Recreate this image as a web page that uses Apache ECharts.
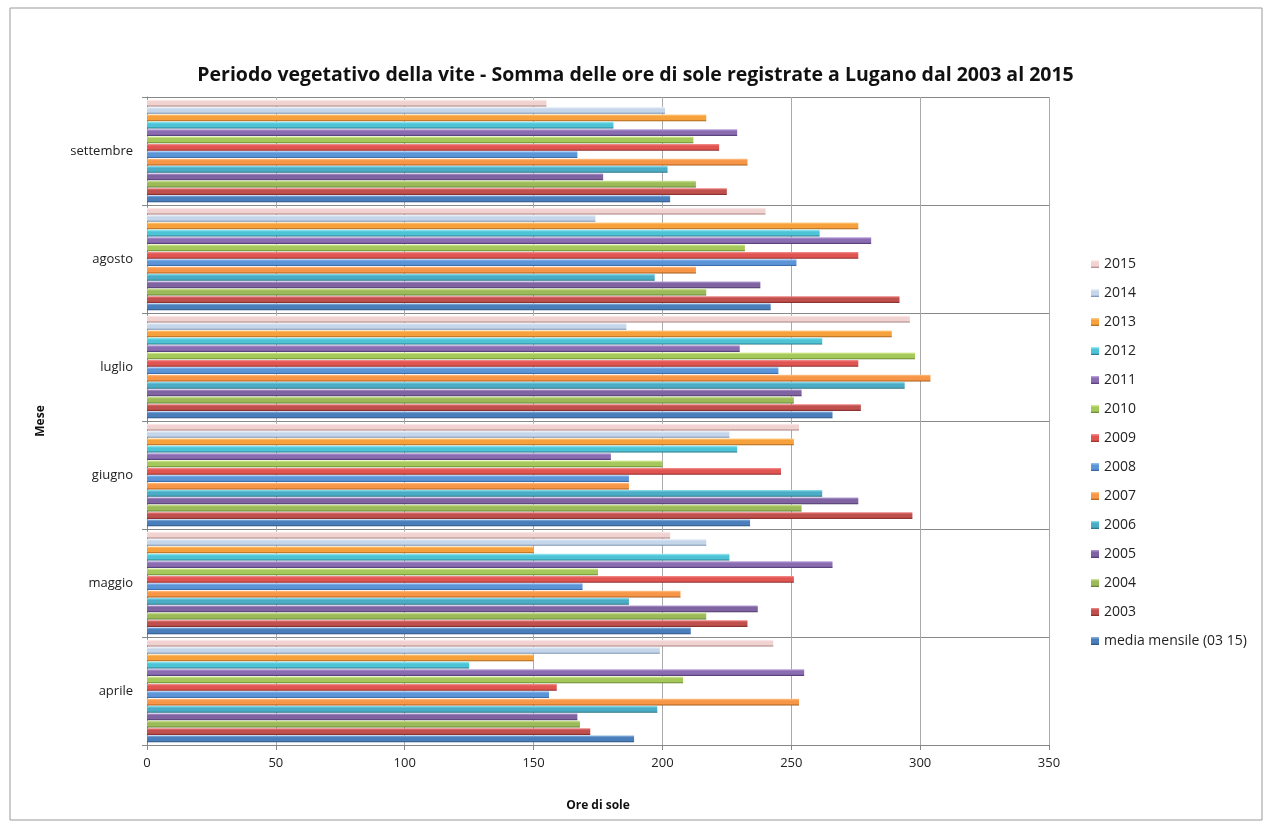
<!DOCTYPE html>
<html>
<head>
<meta charset="utf-8">
<script src="https://cdn.jsdelivr.net/npm/echarts@6/dist/echarts.min.js"></script>
<style>html,body{margin:0;padding:0;background:#fff}#c{width:1271px;height:831px}</style>
</head>
<body>
<div id="c"></div>
<script>
const categories = ['aprile','maggio','giugno','luglio','agosto','settembre'];
const seriesNames = ['media mensile (03 15)','2003','2004','2005','2006','2007','2008','2009','2010','2011','2012','2013','2014','2015'];
const vMedia = [189, 211, 234, 266, 242, 203];
const v2003 = [172, 233, 297, 277, 292, 225];
const v2004 = [168, 217, 254, 251, 217, 213];
const v2005 = [167, 237, 276, 254, 238, 177];
const v2006 = [198, 187, 262, 294, 197, 202];
const v2007 = [253, 207, 187, 304, 213, 233];
const v2008 = [156, 169, 187, 245, 252, 167];
const v2009 = [159, 251, 246, 276, 276, 222];
const v2010 = [208, 175, 200, 298, 232, 212];
const v2011 = [255, 266, 180, 230, 281, 229];
const v2012 = [125, 226, 229, 262, 261, 181];
const v2013 = [150, 150, 251, 289, 276, 217];
const v2014 = [199, 217, 226, 186, 174, 201];
const v2015 = [243, 203, 253, 296, 240, 155];
const xTicks = [0, 50, 100, 150, 200, 250, 300, 350];

const values = [vMedia, v2003, v2004, v2005, v2006, v2007, v2008, v2009, v2010, v2011, v2012, v2013, v2014, v2015];
// [light, base, dark]
const palette = [
  ['#8fb4e3','#4a7ebb','#2c4f7c'],
  ['#f08a88','#c0504d','#7a2a28'],
  ['#d2e79c','#9bbb59','#5b7330'],
  ['#b7a1d6','#8064a2','#4a3766'],
  ['#8fe0ef','#4bacc6','#25697c'],
  ['#ffc58f','#f79646','#a35a1c'],
  ['#9cc6f2','#5b95d8','#2f5d94'],
  ['#f79593','#e05552','#8c2a28'],
  ['#dcef9f','#a5c85a','#5f7a2c'],
  ['#c0a9e2','#8a6cb0','#4b3670'],
  ['#9ef0f8','#4dc3d6','#22707e'],
  ['#ffd08a','#f7a13d','#a5621a'],
  ['#eef4fb','#c6d6ea','#6d86a8'],
  ['#fdf0f0','#f0d2d1','#a87d7c']
];
function grad(p){
  return {type:'linear',x:0,y:0,x2:0,y2:1,colorStops:[
    {offset:0,color:p[0]},{offset:0.3,color:p[1]},{offset:0.75,color:p[1]},{offset:1,color:p[2]}]};
}
const font = '"Open Sans", "Liberation Sans", sans-serif';
// ECharts places the first series at the top of each band, so list the series last-to-first
const order = seriesNames.map((_,i)=>i).reverse();
const series = order.map(i=>({
  name:seriesNames[i], type:'bar', data:values[i],
  barGap:'10%', barCategoryGap:'5%',
  itemStyle:{color:grad(palette[i])}
}));

const chart = echarts.init(document.getElementById('c'));
chart.setOption({
  animation:false,
  backgroundColor:'#fff',
  title:{text:'Periodo vegetativo della vite - Somma delle ore di sole registrate a Lugano dal 2003 al 2015',
    left:'center', top:60,
    textStyle:{fontFamily:font,fontSize:19.5,fontWeight:'bold',color:'#111'}},
  grid:{left:147,right:222,top:97,bottom:86},
  legend:{orient:'vertical', left:1086, top:252,
    data:seriesNames.slice().reverse(),
    icon:'rect', itemWidth:8, itemHeight:8, itemGap:15,
    textStyle:{fontFamily:font,fontSize:14,color:'#222'}},
  xAxis:{type:'value', min:0, max:350, interval:50,
    name:'Ore di sole', nameLocation:'middle', nameGap:55,
    nameTextStyle:{fontFamily:font,fontSize:12,fontWeight:'bold',color:'#111'},
    axisLine:{show:true,lineStyle:{color:'#888'}},
    axisTick:{show:true,length:5,lineStyle:{color:'#888'}},
    axisLabel:{fontFamily:font,fontSize:13,color:'#222',margin:12,
      formatter:v=>xTicks.includes(v)?String(v):''},
    splitLine:{show:true,lineStyle:{color:'#aaa'}}},
  yAxis:{type:'category', data:categories,
    name:'Mese', nameLocation:'middle', nameGap:100, nameRotate:90,
    nameTextStyle:{fontFamily:font,fontSize:12,fontWeight:'bold',color:'#111'},
    axisLine:{show:true,lineStyle:{color:'#888'}},
    axisTick:{show:true,length:5,lineStyle:{color:'#888'}},
    axisLabel:{fontFamily:font,fontSize:13,color:'#222',margin:14},
    splitLine:{show:true,lineStyle:{color:'#888'}}},
  graphic:[{type:'rect',shape:{x:10,y:8,width:1252,height:812},
    style:{fill:null,stroke:'#999',lineWidth:1},silent:true,z:-1}],
  series:series
});
</script>
</body>
</html>
